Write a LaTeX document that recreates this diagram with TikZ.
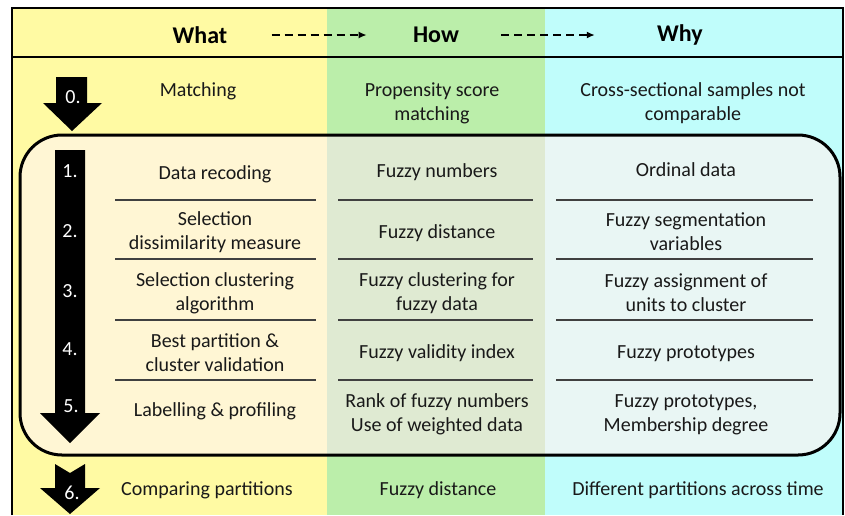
\documentclass[tikz,border=0pt]{standalone}
\usepackage{fontspec}
\setmainfont{Carlito}
\usetikzlibrary{arrows.meta}

% column colours, plain and inside the loop box
\definecolor{whatbg}{HTML}{FFFAA3}
\definecolor{howbg}{HTML}{BBEEAA}
\definecolor{whybg}{HTML}{C0FDFB}
\definecolor{whatin}{HTML}{FFF6D4}
\definecolor{howin}{HTML}{DFEAD2}
\definecolor{whyin}{HTML}{E9F6F4}

\begin{document}
\begin{tikzpicture}[x=0.5pt, y=-0.5pt,
  cell/.style={align=center, yshift=-1pt, text=black!90, font=\fontsize{10pt}{12pt}\selectfont},
  head/.style={inner sep=0pt, font=\fontsize{12pt}{14pt}\selectfont\bfseries},
  num/.style={text=white, font=\fontsize{10pt}{12pt}\selectfont},
  rule/.style={draw=black!75, line width=0.6pt},
  dasharrow/.style={dash pattern=on 4pt off 2.5pt, line width=0.9pt, -{Latex[length=4pt,width=3.5pt]}},
  blockarrow/.style={fill=black}]
  \useasboundingbox (0,0) rectangle (845,515);
  \fill[white] (0,0) rectangle (845,515);

  % columns and frame
  \fill[whatbg] (12,8) rectangle (327,515);
  \fill[howbg] (327,8) rectangle (545,515);
  \fill[whybg] (545,8) rectangle (843,515);
  \draw[line width=1pt] (12,515) -- (12,8) -- (843,8) -- (843,515);
  \draw[line width=1pt] (12,57) -- (843,57);

  % box round steps 1-5
  \begin{scope}
    \clip[rounded corners=21pt] (20,135) rectangle (840,455);
    \fill[whatin] (20,135) rectangle (327,455);
    \fill[howin] (327,135) rectangle (545,455);
    \fill[whyin] (545,135) rectangle (840,455);
  \end{scope}
  \draw[line width=1.5pt, rounded corners=21pt] (20,135) rectangle (840,455);

  % headings
  \node[head] (what) at (200,35) {What};
  \node[head] (how) at (436,35) {How};
  \node[head] (why) at (680,35) {Why};
  \draw[dasharrow, shorten <=22pt, shorten >=23pt] (what.east) -- (how.west);
  \draw[dasharrow, shorten <=21pt, shorten >=31pt] (how.east) -- (why.west);

  % step arrows
  \fill[blockarrow] (56,77) -- (87,77) -- (87,103) -- (102,103) -- (72,131) -- (43,103) -- (56,103) -- cycle;
  \fill[blockarrow] (55,150) -- (85,150) -- (85,413) -- (100,413) -- (70,443) -- (40,413) -- (55,413) -- cycle;
  \fill[blockarrow] (55,464) -- (70,473) -- (85,464) -- (85,488) -- (100,488) -- (70,514) -- (40,488) -- (55,488) -- cycle;
  \node[num] (n0) at (73,97) {0.};
  \node[num] (n1) at (70,171) {1.};
  \node[num] (n2) at (70,231) {2.};
  \node[num] (n3) at (70,291) {3.};
  \node[num] (n4) at (70,349) {4.};
  \node[num] (n5) at (71,406) {5.};
  \node[num] (n6) at (72,493) {6.};

  % rules between the steps
  \foreach \y in {200,259,320,380} {
    \draw[rule] (115,\y) -- (316,\y);
    \draw[rule] (338,\y) -- (533,\y);
    \draw[rule] (556,\y) -- (813,\y);
  }

  % step 0
  \node[cell] (what0) at (198,89) {Matching};
  \node[cell] (how0) at (432,101) {Propensity score\\matching};
  \node[cell] (why0) at (693,101) {Cross-sectional samples not\\comparable};
  % steps 1-5
  \node[cell] (what1) at (215,172) {Data recoding};
  \node[cell] (how1) at (437,170) {Fuzzy numbers};
  \node[cell] (why1) at (686,168) {Ordinal data};
  \node[cell] (what2) at (215,230) {Selection\\dissimilarity measure};
  \node[cell] (how2) at (437,231) {Fuzzy distance};
  \node[cell] (why2) at (686,230) {Fuzzy segmentation\\variables};
  \node[cell] (what3) at (215,291) {Selection clustering\\algorithm};
  \node[cell] (how3) at (437,291) {Fuzzy clustering for\\fuzzy data};
  \node[cell] (why3) at (686,291) {Fuzzy assignment of\\units to cluster};
  \node[cell] (what4) at (215,351) {Best partition \&\\cluster validation};
  \node[cell] (how4) at (437,351) {Fuzzy validity index};
  \node[cell] (why4) at (686,352) {Fuzzy prototypes};
  \node[cell] (what5) at (215,409) {Labelling \& profiling};
  \node[cell] (how5) at (437,412) {Rank of fuzzy numbers\\Use of weighted data};
  \node[cell] (why5) at (686,413) {Fuzzy prototypes,\\Membership degree};
  % step 6
  \node[cell] (what6) at (207,488) {Comparing partitions};
  \node[cell] (how6) at (438,488) {Fuzzy distance};
  \node[cell] (why6) at (698,488) {Different partitions across time};
\end{tikzpicture}
\end{document}
